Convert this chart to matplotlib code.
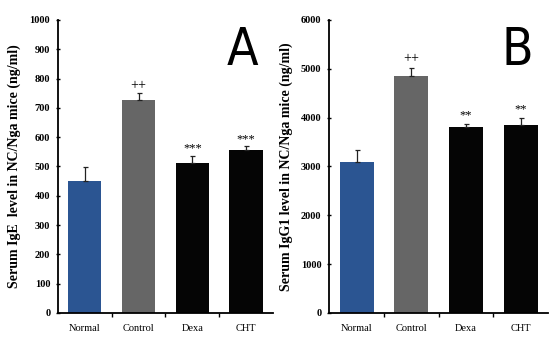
import matplotlib
matplotlib.use("Agg")
import matplotlib.pyplot as plt

categories = ["Normal", "Control", "Dexa", "CHT"]
colors = ["#2b5592", "#666666", "#050505", "#050505"]

ige_values = [450, 728, 513, 556]
ige_errors = [47, 22, 24, 13]
ige_marks = ["", "++", "***", "***"]
ige_ticks = list(range(0, 1001, 100))

igg1_values = [3100, 4850, 3810, 3840]
igg1_errors = [235, 160, 50, 145]
igg1_marks = ["", "++", "**", "**"]
igg1_ticks = list(range(0, 6001, 1000))

serif = "Liberation Serif"

fig = plt.figure(figsize=(5.57, 3.63), dpi=100)
ax1 = fig.add_axes([0.104, 0.138, 0.386, 0.807])
ax2 = fig.add_axes([0.591, 0.138, 0.393, 0.807])

def panel(ax, vals, errs, marks, ticks, ylabel, letter, mark_off):
    x = list(range(len(categories)))
    ax.bar(x, vals, width=0.62, color=colors, zorder=2)
    ax.errorbar(x, vals, yerr=[[0]*len(errs), errs], fmt="none", ecolor="#222222",
                elinewidth=0.9, capsize=1.8, capthick=0.9, zorder=3)
    for xi, v, e, m in zip(x, vals, errs, marks):
        if m:
            ax.annotate(m, (xi, v + e), xytext=(0, mark_off), textcoords="offset points",
                        ha="center", va="bottom", fontsize=10 if "+" in m else 9,
                        family=serif)
    ax.set_xlim(-0.5, 3.5)
    ax.set_ylim(0, ticks[-1])
    ax.set_yticks(ticks)
    ax.set_yticklabels([str(t) for t in ticks], fontsize=7.5, family=serif, fontweight="bold")
    ax.set_xticks([0.5, 1.5, 2.5], minor=False)
    ax.set_xticklabels([])
    ax.tick_params(axis="x", which="major", direction="out", length=3, width=1)
    ax.set_xticks(x, minor=True)
    ax.set_xticklabels(categories, minor=True, fontsize=7.5, family=serif)
    ax.tick_params(axis="x", which="minor", length=0, pad=8)
    ax.tick_params(axis="y", direction="inout", length=3, width=1, pad=4)
    for s in ["top", "right"]:
        ax.spines[s].set_visible(False)
    for s in ["left", "bottom"]:
        ax.spines[s].set_linewidth(1.3)
    ax.set_ylabel(ylabel, fontsize=10, family=serif, fontweight="bold", labelpad=6)
    ax.text(0.86, 0.895, letter, transform=ax.transAxes, ha="center", va="center",
            fontsize=37, family="DejaVu Sans", fontstretch="condensed")

panel(ax1, ige_values, ige_errors, ige_marks, ige_ticks,
      "Serum IgE  level in NC/Nga mice (ng/ml)", "A", 1)
panel(ax2, igg1_values, igg1_errors, igg1_marks, igg1_ticks,
      "Serum IgG1 level in NC/Nga mice (ng/ml)", "B", 2)

fig.savefig("out.png", dpi=100)
